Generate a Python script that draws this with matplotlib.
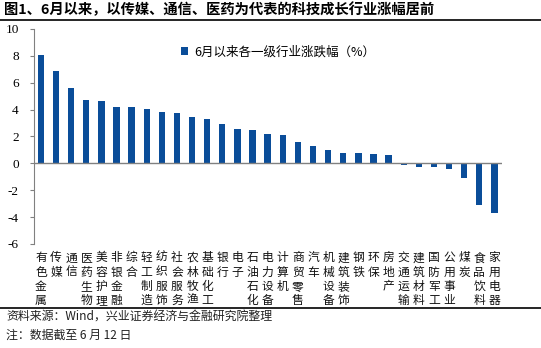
import matplotlib
matplotlib.use("Agg")
import matplotlib.pyplot as plt
from matplotlib.lines import Line2D

plt.rcParams['font.family'] = ['Noto Sans CJK SC', 'DejaVu Sans']

# 数据：6月以来各一级行业涨跌幅（%）
industries = ["有色金属", "传媒", "通信", "医药生物", "美容护理", "非银金融", "综合",
              "轻工制造", "纺织服饰", "社会服务", "农林牧渔", "基础化工", "银行", "电子",
              "石油石化", "电力设备", "计算机", "商贸零售", "汽车", "机械设备", "建筑装饰",
              "钢铁", "环保", "房地产", "交通运输", "建筑材料", "国防军工", "公用事业",
              "煤炭", "食品饮料", "家用电器"]
changes = [8.1, 6.9, 5.63, 4.71, 4.64, 4.21, 4.19,
           4.04, 3.8, 3.77, 3.47, 3.3, 2.93, 2.55,
           2.46, 2.18, 2.13, 1.56, 1.31, 0.97, 0.77,
           0.77, 0.67, 0.65, -0.1, -0.25, -0.3, -0.4,
           -1.12, -3.13, -3.68]
legend_label = "6月以来各一级行业涨跌幅（%）"
yticks = [-6, -4, -2, 0, 2, 4, 6, 8, 10]

bar_color = "#0A4D99"

fig = plt.figure(figsize=(5.41, 3.48), dpi=100)
ax = fig.add_axes([0.0628, 0.2989, 0.865, 0.6178])

x = list(range(len(industries)))
ax.bar(x, changes, width=0.42, color=bar_color, label=legend_label, zorder=2)
ax.axhline(0, color="#808080", lw=1.0, zorder=3)

ax.set_xlim(-0.46, 30.5)
ax.set_ylim(-6, 10)
ax.set_yticks(yticks)
ax.set_yticklabels([str(v) for v in yticks], family="Liberation Serif", fontsize=9.5)
ax.tick_params(axis="y", direction="out", length=3, color="#808080", pad=8)
ax.set_xticks([])
for s in ["top", "right", "bottom"]:
    ax.spines[s].set_visible(False)
ax.spines["left"].set_color("#808080")

# 竖排行业名称
for i, name in enumerate(industries):
    ax.text(i, -6.55, "\n".join(name), ha="center", va="top", fontsize=8.5,
            linespacing=1.12, color="#111111", clip_on=False)

leg = ax.legend(loc="upper left", bbox_to_anchor=(0.29, 0.975), frameon=False,
                fontsize=9, handlelength=0.6, handleheight=0.6, handletextpad=0.5)

# 标题与注释
fig.text(0.008, 0.972, "图1、6月以来，以传媒、通信、医药为代表的科技成长行业涨幅居前",
         fontsize=10.3, fontweight="bold", va="center", ha="left")
fig.add_artist(Line2D([0, 1], [0.942, 0.942], color="black", lw=1.2))
fig.add_artist(Line2D([0, 1], [0.116, 0.116], color="black", lw=1.2))
fig.text(0.012, 0.088, "资料来源：Wind，兴业证券经济与金融研究院整理", fontsize=8.6,
         va="center", ha="left", color="#222222")
fig.text(0.012, 0.036, "注：数据截至 6 月 12 日", fontsize=8.6,
         va="center", ha="left", color="#222222")

fig.savefig("out.png", dpi=100)
